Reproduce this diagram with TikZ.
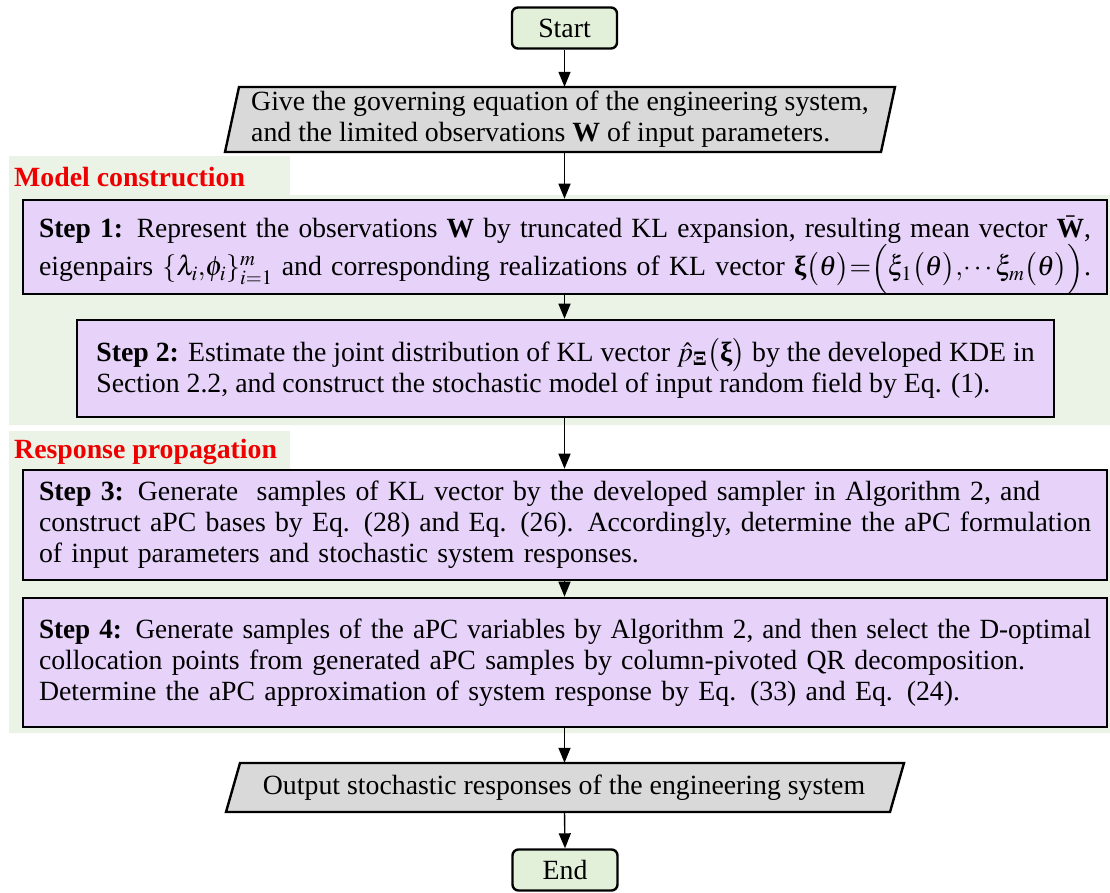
\documentclass[tikz,border=0pt]{standalone}
\usepackage{amsmath}
\usepackage{graphicx}
\usepackage{mathptmx}
\usepackage{fontspec}
\setmainfont{Liberation Serif}
\usetikzlibrary{arrows.meta,calc}
\definecolor{stepfill}{HTML}{E7D3FA}
\definecolor{bggreen}{HTML}{EBF3E6}
\definecolor{termfill}{HTML}{E2F0D9}
\definecolor{iofill}{HTML}{D9D9D9}
\definecolor{sectred}{HTML}{EE0000}
\newcommand{\bxi}{\text{\bfseries ξ}}
\newsavebox{\jlbox}
\newcommand{\jl}[1]{\sbox{\jlbox}{#1}\ifdim\wd\jlbox>\linewidth\resizebox{\linewidth}{\height}{\usebox{\jlbox}}\else\makebox[\linewidth][s]{#1}\fi}
\tikzset{
  stepbox/.style={draw=black, line width=2.6pt, fill=stepfill, inner xsep=16pt, inner ysep=0pt},
  term/.style={draw=black, line width=2.4pt, fill=termfill, rounded corners=6pt,
    minimum width=105pt, minimum height=41pt, inner sep=0pt},
  iotext/.style={inner sep=0pt, align=left},
  iopath/.style={draw=black, line width=2.4pt, fill=iofill},
  arr/.style={line width=1.4pt, -{Triangle[width=12pt,length=15pt]}},
  sect/.style={text=sectred, font=\fontsize{27.8}{31}\selectfont\bfseries, anchor=west, inner sep=0pt},
  bgarea/.style={fill=bggreen, draw=none}
}
\begin{document}
\begin{tikzpicture}[x=1pt,y=-1pt, font=\fontsize{27.8}{31}\selectfont]
\useasboundingbox (0,0) rectangle (1110,892);
% section backgrounds
\path[bgarea] (9,156) -- (290,156) -- (290,195) -- (1110,195) -- (1110,425) -- (9,425) -- cycle;
\path[bgarea] (9,431) -- (290,431) -- (290,470) -- (1110,470) -- (1110,733) -- (9,733) -- cycle;
\node[sect] (lab1) at (14,177) {Model construction};
\node[sect] (lab2) at (14,452) {Response propagation};

% start
\node[term] (start) at (564.5,28) {Start};

% input parallelogram
\path[iopath] (225,152) -- (239,87) -- (895,87) -- (881,152) -- cycle;
\node[iotext, minimum height=65pt] (in) at (560,119.5)
  {Give the governing equation of the engineering system,\\
   and the limited observations \textbf{W} of input parameters.};

% steps
\node[stepbox, minimum width=1084pt, minimum height=90pt, text width=1052pt, align=left] (s1) at (565,247)
  {\rule{0pt}{38pt}\jl{\textbf{Step 1:} Represent the observations \textbf{W} by truncated KL expansion, resulting mean vector $\bar{\text{\bfseries W}}$,}\\[-1pt]
   \jl{eigenpairs $\{\lambda_i{,}\phi_i\}_{i=1}^{m}$ and corresponding realizations of KL vector $\bxi\bigl(\theta\bigr){=}\Bigl(\xi_1\bigl(\theta\bigr){,}\!\cdots\xi_m\bigl(\theta\bigr)\Bigr)$.}};

\node[stepbox, minimum width=977pt, minimum height=97pt, align=left] (s2) at (565.5,368.5)
  {\textbf{Step 2:} Estimate the joint distribution of KL vector $\hat{p}_{\text{\bfseries Ξ}}\bigl(\bxi\bigr)$ by the developed KDE in\\
   Section 2.2, and construct the stochastic model of input random field by Eq. (1).};

\node[stepbox, minimum width=1084pt, minimum height=110pt, text width=1052pt, align=left] (s3) at (565,525)
  {\jl{\textbf{Step 3:} Generate\ \ samples of KL vector by the developed sampler in Algorithm 2, and}\\
   \jl{construct aPC bases by Eq. (28) and Eq. (26). Accordingly, determine the aPC formulation}\\
   of input parameters and stochastic system responses.};

\node[stepbox, minimum width=1084pt, minimum height=129pt, text width=1052pt, align=left] (s4) at (565,662.5)
  {\jl{\textbf{Step 4:} Generate samples of the aPC variables by Algorithm 2, and then select the D-optimal}\\
   \jl{collocation points from generated aPC samples by column-pivoted QR decomposition.}\\
   Determine the aPC approximation of system response by Eq. (33) and Eq. (24).};

% output parallelogram
\path[iopath] (226,812) -- (240,763) -- (904,763) -- (890,812) -- cycle;
\node[iotext, minimum height=49pt] (out) at (564,787.5)
  {Output stochastic responses of the engineering system};

% end
\node[term] (end) at (565,870) {End};

% connectors
\draw[arr] (start.south) -- (start.south |- in.north);
\draw[arr] (start.south |- in.south) -- (start.south |- s1.north);
\draw[arr] (start.south |- s1.south) -- (start.south |- s2.north);
\draw[arr] (start.south |- s2.south) -- (start.south |- s3.north);
\draw[arr] (start.south |- s3.south) -- (start.south |- s4.north);
\draw[arr] (start.south |- s4.south) -- (start.south |- out.north);
\draw[arr] (start.south |- out.south) -- (end.north);
\end{tikzpicture}
\end{document}
